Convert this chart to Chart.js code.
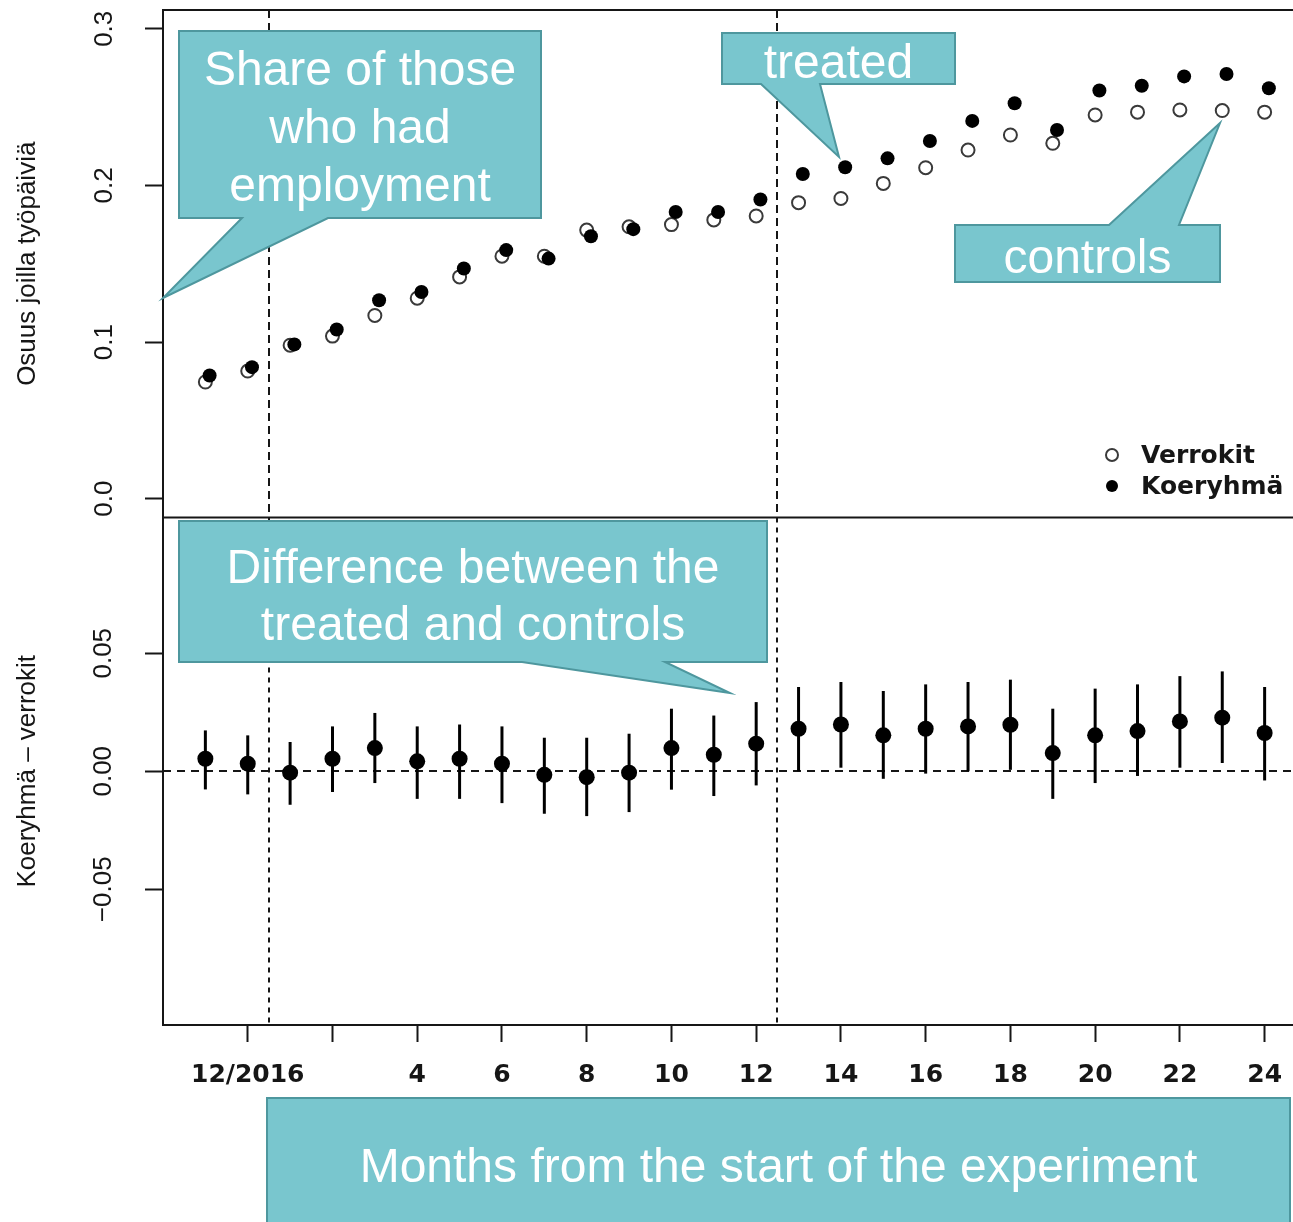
<!DOCTYPE html>
<html><head><meta charset="utf-8">
<script src="https://cdn.jsdelivr.net/npm/chart.js@4/dist/chart.umd.min.js"></script>
<style>html,body{margin:0;padding:0;background:#fff;overflow:hidden;width:1293px;height:1222px}canvas{display:block}</style>
</head><body><canvas id="c" width="1320" height="1222"></canvas>
<script>
// ---- data ----
const months = [-1,0,1,2,3,4,5,6,7,8,9,10,11,12,13,14,15,16,17,18,19,20,21,22,23,24];
const verrokit = [0.0745,0.0815,0.098,0.1038,0.117,0.128,0.1416,0.1548,0.1548,0.1715,0.1736,0.175,0.178,0.1805,0.189,0.1917,0.2013,0.2113,0.2226,0.2322,0.2269,0.245,0.2468,0.2482,0.2478,0.2468];
const koeryhma = [0.0787,0.084,0.0985,0.108,0.1267,0.132,0.147,0.1587,0.1533,0.1676,0.1721,0.183,0.183,0.191,0.2073,0.2116,0.2173,0.2284,0.2412,0.2525,0.2354,0.2606,0.2636,0.2696,0.2711,0.262];
const diffEst = [0.0053,0.0032,-0.0006,0.0053,0.0098,0.0042,0.0053,0.0032,-0.0015,-0.0025,-0.0006,0.0098,0.007,0.0117,0.018,0.0198,0.0152,0.018,0.019,0.0197,0.0077,0.0152,0.017,0.0211,0.0227,0.0162];
const diffLow = [-0.0077,-0.0098,-0.0142,-0.0088,-0.005,-0.0117,-0.0117,-0.0135,-0.018,-0.019,-0.0173,-0.0078,-0.0105,-0.006,0.0,0.0015,-0.0032,-0.001,0.0,0.0006,-0.0117,-0.005,-0.002,0.0015,0.0035,-0.0039];
const diffHigh = [0.0173,0.0152,0.0124,0.019,0.0247,0.019,0.0198,0.019,0.0142,0.0142,0.0159,0.0265,0.0236,0.0293,0.0357,0.0378,0.034,0.0368,0.0378,0.0388,0.0265,0.035,0.0368,0.0403,0.0423,0.0357];
const xTicks = [0,2,4,6,8,10,12,14,16,18,20,22,24];
const xTickLabels = ['12/2016','','4','6','8','10','12','14','16','18','20','22','24'];
const shareTicks = [0,0.1,0.2,0.3];
const shareTickLabels = ['0.0','0.1','0.2','0.3'];
const diffTicks = [-0.05,0,0.05];
const diffTickLabels = ['\u22120.05','0.00','0.05'];
const periodBreaks = [0.5,12.5];
const seriesNames = ['Verrokit','Koeryhmä'];
const axisTitles = ['Osuus joilla työpäiviä','Koeryhmä \u2013 verrokit'];
const treatedOffset = 0.1;
const calloutTexts = [
  ['Share of those','who had','employment'],
  ['treated'],
  ['controls'],
  ['Difference between the','treated and controls'],
  ['Months from the start of the experiment']
];

// ---- layout of overlay callouts (pixels) ----
const calloutShapes = [
  {poly:[[179,31],[541,31],[541,218],[328,218],[163,298],[242,218],[179,218]], cx:360, base:[85,143,201]},
  {poly:[[722,33],[955,33],[955,84],[820,84],[839,157],[761,84],[722,84]], cx:838.5, base:[78]},
  {poly:[[955,225],[1109,225],[1220,123],[1179,225],[1220,225],[1220,282],[955,282]], cx:1087.5, base:[273]},
  {poly:[[179,521],[767,521],[767,662],[665,662],[730,693],[522,662],[179,662]], cx:473, base:[583,640]},
  {poly:[[267,1098],[1290,1098],[1290,1240],[267,1240]], cx:778.5, base:[1182]}
];

const INK = '#161616';
const overlay = {
  id:'overlay',
  beforeDatasetsDraw(chart){
    const {ctx, chartArea:a, scales:{x, yShare, yDiff}} = chart;
    ctx.save();
    ctx.strokeStyle = INK; ctx.lineWidth = 2;
    ctx.beginPath();
    ctx.moveTo(a.left, yShare.top); ctx.lineTo(a.right, yShare.top);
    ctx.moveTo(a.left, yShare.bottom); ctx.lineTo(a.right, yShare.bottom);
    ctx.stroke();
    periodBreaks.forEach(b=>{
      const px = Math.round(x.getPixelForValue(b));
      ctx.setLineDash([8,5]);
      ctx.beginPath(); ctx.moveTo(px, yShare.top); ctx.lineTo(px, yShare.bottom); ctx.stroke();
      ctx.setLineDash([5,5]);
      ctx.beginPath(); ctx.moveTo(px, yDiff.top); ctx.lineTo(px, yDiff.bottom); ctx.stroke();
    });
    const z = Math.round(yDiff.getPixelForValue(0));
    ctx.setLineDash([8,6]);
    ctx.beginPath(); ctx.moveTo(a.left, z); ctx.lineTo(a.right, z); ctx.stroke();
    ctx.setLineDash([]); ctx.lineWidth = 3; ctx.strokeStyle = '#000';
    months.forEach((m,i)=>{
      const px = x.getPixelForValue(m);
      ctx.beginPath();
      ctx.moveTo(px, yDiff.getPixelForValue(diffLow[i]));
      ctx.lineTo(px, yDiff.getPixelForValue(diffHigh[i]));
      ctx.stroke();
    });
    ctx.restore();
  },
  afterDraw(chart){
    const ctx = chart.ctx;
    ctx.save();
    const ds = chart.data.datasets;
    const legendRows = [455, 486];
    ctx.font = 'bold 25px "DejaVu Sans"';
    ctx.textBaseline = 'middle'; ctx.textAlign = 'left'; ctx.fillStyle = INK;
    [0,1].forEach(k=>{
      const d = ds[k];
      ctx.beginPath(); ctx.arc(1112, legendRows[k], 6, 0, Math.PI*2);
      ctx.fillStyle = d.pointBackgroundColor; ctx.fill();
      if (d.pointBorderWidth) { ctx.lineWidth = d.pointBorderWidth; ctx.strokeStyle = d.pointBorderColor; ctx.stroke(); }
      ctx.fillStyle = INK;
      ctx.fillText(d.label, 1141, legendRows[k] + 1);
    });
    calloutShapes.forEach((c,k)=>{
      ctx.beginPath();
      c.poly.forEach((p,j)=> j ? ctx.lineTo(p[0],p[1]) : ctx.moveTo(p[0],p[1]));
      ctx.closePath();
      ctx.fillStyle = '#79C6CE'; ctx.fill();
      ctx.lineWidth = 2; ctx.strokeStyle = '#4E979E'; ctx.stroke();
      ctx.fillStyle = '#ffffff';
      ctx.font = '48px "Liberation Sans", Arial, sans-serif';
      ctx.textAlign = 'center'; ctx.textBaseline = 'alphabetic';
      calloutTexts[k].forEach((t,j)=> ctx.fillText(t, c.cx, c.base[j]));
    });
    ctx.restore();
  }
};

const tickFontY = {family:'"Liberation Sans", Arial, sans-serif', size:26};
const titleFont = {family:'"Liberation Sans", Arial, sans-serif', size:26};
const fitY = s => { s.width = 163; s.paddingTop = 0; s.paddingBottom = 0; };

new Chart(document.getElementById('c').getContext('2d'), {
  type:'scatter',
  data:{datasets:[
    {label:seriesNames[0], data:months.map((m,i)=>({x:m, y:verrokit[i]})), yAxisID:'yShare', order:2,
     pointRadius:6.5, pointBorderWidth:2, pointBorderColor:'#3a3a3a', pointBackgroundColor:'#ffffff'},
    {label:seriesNames[1], data:months.map((m,i)=>({x:m+treatedOffset, y:koeryhma[i]})), yAxisID:'yShare', order:1,
     pointRadius:7, pointBorderWidth:0, pointBorderColor:'#000', pointBackgroundColor:'#000000'},
    {label:'diff', data:months.map((m,i)=>({x:m, y:diffEst[i]})), yAxisID:'yDiff', order:0,
     pointRadius:8, pointBorderWidth:0, pointBackgroundColor:'#000000'}
  ]},
  options:{
    responsive:false, animation:false, devicePixelRatio:1, events:[],
    layout:{padding:{top:10, right:13, left:0, bottom:0}},
    plugins:{legend:{display:false}, tooltip:{enabled:false}},
    scales:{
      x:{type:'linear', position:'bottom', min:-2, max:25,
        afterBuildTicks:s=>{ s.ticks = xTicks.map(v=>({value:v})); },
        afterFit:s=>{ s.height = 197; s.paddingLeft = 0; s.paddingRight = 0; },
        ticks:{autoSkip:false, minRotation:0, maxRotation:0, padding:18, color:INK,
          font:{family:'"DejaVu Sans"', size:25, weight:'bold'},
          callback:v=>{ const i = xTicks.indexOf(v); return i>=0 ? xTickLabels[i] : ''; }},
        grid:{drawOnChartArea:false, drawTicks:true, tickLength:17, tickWidth:2, tickColor:INK},
        border:{display:true, color:INK, width:2}
      },
      yDiff:{type:'linear', position:'left', stack:'panels', stackWeight:1, min:-0.1075, max:0.1075,
        afterBuildTicks:s=>{ s.ticks = diffTicks.map(v=>({value:v})); },
        afterFit:fitY,
        ticks:{autoSkip:false, minRotation:90, maxRotation:90, crossAlign:'center', padding:8, color:INK, font:tickFontY,
          callback:v=>{ const i = diffTicks.findIndex(t=>Math.abs(t-v)<1e-9); return i>=0 ? diffTickLabels[i] : ''; }},
        grid:{drawOnChartArea:false, drawTicks:true, tickLength:18, tickWidth:2, tickColor:INK},
        border:{display:true, color:INK, width:2},
        title:{display:true, text:axisTitles[1], color:INK, font:titleFont, padding:{top:12, bottom:0}}
      },
      yShare:{type:'linear', position:'left', stack:'panels', stackWeight:1, min:-0.012, max:0.312,
        afterBuildTicks:s=>{ s.ticks = shareTicks.map(v=>({value:v})); },
        afterFit:fitY,
        ticks:{autoSkip:false, minRotation:90, maxRotation:90, crossAlign:'center', padding:22, color:INK, font:tickFontY,
          callback:v=>{ const i = shareTicks.findIndex(t=>Math.abs(t-v)<1e-9); return i>=0 ? shareTickLabels[i] : ''; }},
        grid:{drawOnChartArea:false, drawTicks:true, tickLength:18, tickWidth:2, tickColor:INK},
        border:{display:true, color:INK, width:2},
        title:{display:true, text:axisTitles[0], color:INK, font:titleFont, padding:{top:12, bottom:0}}
      }
    }
  },
  plugins:[overlay]
});
</script></body></html>
